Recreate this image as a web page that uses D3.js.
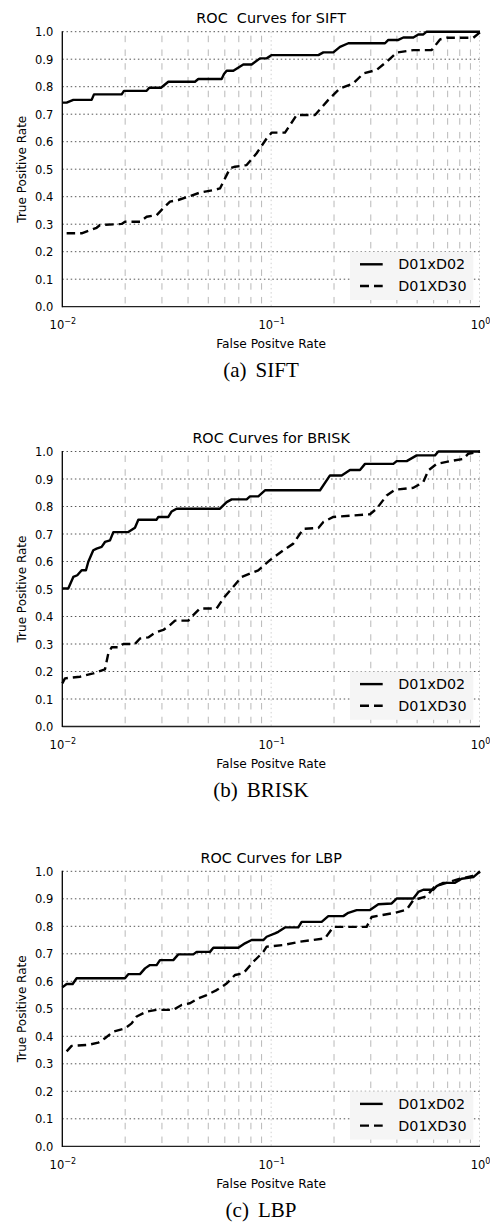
<!DOCTYPE html>
<html>
<head>
<meta charset="utf-8">
<script src="https://cdn.jsdelivr.net/npm/d3@7/dist/d3.min.js"></script>
<style>
  html, body { margin: 0; padding: 0; background: #fff; }
  svg { display: block; }
  text { font-family: "DejaVu Sans", sans-serif; fill: #000; }
</style>
</head>
<body>
<svg id="chart" width="490" height="1222"></svg>
<script>
// ---------------- data ----------------
const panelTitles = ["ROC  Curves for SIFT", "ROC Curves for BRISK", "ROC Curves for LBP"];
const captionTags = ["(a)", "(b)", "(c)"];
const captionNames = ["SIFT", "BRISK", "LBP"];
const seriesNames = ["D01xD02", "D01XD30"];
const xLabel = "False Positve Rate";
const yLabel = "True Positive Rate";
const yTicks = [0.0, 0.1, 0.2, 0.3, 0.4, 0.5, 0.6, 0.7, 0.8, 0.9, 1.0];
const xMajorTicks = [0.01, 0.1, 1];
const xTickExponents = ["-2", "-1", "0"];
const xMinorTicks = [0.02,0.03,0.04,0.05,0.06,0.07,0.08,0.09,0.2,0.3,0.4,0.5,0.6,0.7,0.8,0.9];

// SIFT
const siftSolidFPR = [0.0100,0.01049,0.01129,0.01382,0.01418,0.01924,0.01974,0.02534,0.02609,0.02968,0.03219,0.04318,0.04480,0.05794,0.05945,0.06122,0.06590,0.07357,0.08064,0.08841,0.09517,0.1006,0.1683,0.1778,0.1985,0.2136,0.2342,0.3509,0.3640,0.4064,0.4296,0.4795,0.5067,0.5354,0.5554,1.0];
const siftSolidTPR = [0.742,0.742,0.752,0.752,0.772,0.772,0.785,0.785,0.796,0.796,0.818,0.818,0.828,0.828,0.846,0.858,0.858,0.881,0.881,0.903,0.903,0.915,0.915,0.925,0.925,0.945,0.958,0.958,0.970,0.970,0.979,0.979,0.990,0.990,1.0,1.0];
const siftDashFPR = [0.01049,0.01238,0.01460,0.01515,0.01924,0.01996,0.02355,0.02534,0.02829,0.02990,0.03278,0.03593,0.04012,0.04563,0.05286,0.05689,0.06352,0.06711,0.07633,0.08522,0.09517,0.1006,0.1165,0.1325,0.1622,0.1878,0.2136,0.2475,0.2763,0.3201,0.3574,0.3990,0.4795,0.5869,0.6435,0.6922,0.9292,1.0];
const siftDashTPR = [0.267,0.267,0.287,0.297,0.301,0.309,0.309,0.327,0.333,0.352,0.382,0.388,0.400,0.415,0.424,0.430,0.503,0.509,0.515,0.558,0.612,0.633,0.633,0.697,0.697,0.752,0.794,0.812,0.848,0.861,0.891,0.924,0.933,0.933,0.972,0.978,0.978,0.998];

// BRISK
const briskSolidFPR = [0.0100,0.01068,0.01129,0.01180,0.01238,0.01298,0.01332,0.01407,0.01460,0.01543,0.01601,0.01692,0.01755,0.02070,0.02228,0.02312,0.02829,0.02882,0.03219,0.03339,0.03527,0.05689,0.06122,0.06470,0.07633,0.07918,0.08679,0.09343,0.1714,0.1913,0.2176,0.2385,0.2663,0.2814,0.3846,0.3990,0.4457,0.4975,0.6088,0.6317,1.0];
const briskSolidTPR = [0.502,0.502,0.544,0.550,0.568,0.568,0.599,0.641,0.647,0.653,0.671,0.677,0.707,0.707,0.723,0.752,0.752,0.762,0.762,0.782,0.792,0.792,0.816,0.826,0.826,0.837,0.837,0.859,0.859,0.913,0.913,0.933,0.933,0.955,0.955,0.965,0.965,0.986,0.986,1.0,1.0];
const briskDashFPR = [0.0100,0.01030,0.01215,0.01407,0.01601,0.01661,0.01723,0.01854,0.01960,0.02228,0.02355,0.02580,0.02778,0.03045,0.03278,0.03463,0.04012,0.04162,0.04563,0.05483,0.05902,0.06590,0.07223,0.07918,0.08679,0.09872,0.1144,0.1277,0.1426,0.1683,0.1778,0.1985,0.2973,0.3201,0.3574,0.3917,0.4795,0.5354,0.5657,0.6201,0.7452,0.8321,0.8792,1.0];
const briskDashTPR = [0.157,0.175,0.181,0.193,0.208,0.266,0.288,0.288,0.300,0.300,0.320,0.324,0.341,0.351,0.369,0.385,0.385,0.399,0.429,0.429,0.466,0.508,0.544,0.556,0.568,0.605,0.641,0.665,0.719,0.722,0.744,0.762,0.772,0.792,0.840,0.861,0.868,0.889,0.931,0.955,0.967,0.973,0.992,1.0];

// LBP
const lbpSolidFPR = [0.0100,0.01049,0.01121,0.01171,0.01996,0.02070,0.02355,0.02489,0.02628,0.02829,0.02936,0.03400,0.03593,0.04240,0.04398,0.05095,0.05286,0.06963,0.07494,0.08064,0.09172,0.09517,0.1043,0.1082,0.1165,0.1349,0.1400,0.1745,0.1878,0.2216,0.2342,0.2567,0.2973,0.3261,0.3776,0.3990,0.4795,0.5067,0.5354,0.5978,0.6201,0.6672,0.7591,0.8169,0.9292,1.0];
const lbpSolidTPR = [0.578,0.590,0.590,0.611,0.611,0.626,0.626,0.647,0.659,0.659,0.677,0.677,0.698,0.698,0.707,0.707,0.722,0.722,0.738,0.750,0.750,0.762,0.774,0.780,0.796,0.796,0.816,0.816,0.837,0.837,0.849,0.859,0.859,0.880,0.883,0.901,0.901,0.925,0.933,0.933,0.946,0.958,0.958,0.973,0.979,1.0];
const lbpDashFPR = [0.01049,0.01108,0.01332,0.01487,0.01601,0.01755,0.01996,0.02148,0.02270,0.02534,0.02829,0.03400,0.03728,0.04086,0.04480,0.04912,0.05483,0.06122,0.06711,0.07357,0.08214,0.09172,0.09517,0.1144,0.1374,0.1810,0.1985,0.2866,0.3029,0.3917,0.4457,0.4795,0.5554,0.6088,0.6922,0.8022,0.9122,1.0];
const lbpDashTPR = [0.345,0.365,0.369,0.377,0.393,0.417,0.429,0.447,0.472,0.490,0.496,0.496,0.514,0.520,0.538,0.550,0.568,0.592,0.623,0.629,0.671,0.707,0.726,0.732,0.744,0.756,0.798,0.798,0.834,0.849,0.861,0.895,0.909,0.946,0.958,0.973,0.982,0.998];

const panels = [
  { solid: d3.zip(siftSolidFPR, siftSolidTPR), dash: d3.zip(siftDashFPR, siftDashTPR) },
  { solid: d3.zip(briskSolidFPR, briskSolidTPR), dash: d3.zip(briskDashFPR, briskDashTPR) },
  { solid: d3.zip(lbpSolidFPR, lbpSolidTPR), dash: d3.zip(lbpDashFPR, lbpDashTPR) }
];

// ---------------- layout ----------------
const svg = d3.select("#chart");
const left = 62.3, right = 480, plotH = 275;
const panelTops = [31.7, 451.5, 871.3];
const x = d3.scaleLog().domain([0.01, 1]).range([left, right]);

panels.forEach((p, i) => {
  const top = panelTops[i];
  const bottom = top + plotH;
  const y = d3.scaleLinear().domain([0, 1]).range([bottom, top]);
  const g = svg.append("g");

  // minor vertical grid (dashed light gray)
  g.append("g").selectAll("line").data(xMinorTicks).join("line")
    .attr("x1", d => x(d)).attr("x2", d => x(d))
    .attr("y1", top).attr("y2", bottom)
    .attr("stroke", "#b8b8b8").attr("stroke-width", 1)
    .attr("stroke-dasharray", "6.5,7.25").attr("stroke-dashoffset", -4);

  // major vertical grid (faint dotted)
  g.append("g").selectAll("line").data(xMajorTicks.slice(1)).join("line")
    .attr("x1", d => x(d) - (d === 1 ? 0.5 : 0)).attr("x2", d => x(d) - (d === 1 ? 0.5 : 0))
    .attr("y1", top).attr("y2", bottom)
    .attr("stroke", "#d0d0d0").attr("stroke-width", 1)
    .attr("stroke-dasharray", "1.5,2.7");

  // horizontal grid (dotted)
  g.append("g").selectAll("line").data(yTicks.slice(1)).join("line")
    .attr("x1", left).attr("x2", right)
    .attr("y1", d => y(d)).attr("y2", d => y(d))
    .attr("stroke", "#555").attr("stroke-width", 1)
    .attr("stroke-dasharray", "1.5,2.7");

  // curves
  const line = d3.line().x(d => x(d[0])).y(d => y(d[1]));
  g.append("path").datum(p.solid).attr("d", line)
    .attr("fill", "none").attr("stroke", "#000").attr("stroke-width", 2.4)
    .attr("stroke-linejoin", "round");
  g.append("path").datum(p.dash).attr("d", line)
    .attr("fill", "none").attr("stroke", "#000").attr("stroke-width", 2.4)
    .attr("stroke-linejoin", "round").attr("stroke-dasharray", "8.5,5");

  // legend
  const lg = g.append("g").attr("transform", `translate(350,${top + 220})`);
  lg.append("rect").attr("width", 123.3).attr("height", 48.3).attr("fill", "#f5f5f5");
  seriesNames.forEach((name, k) => {
    const ly = 12.6 + k * 21.7;
    lg.append("line").attr("x1", 10).attr("x2", 32.7).attr("y1", ly).attr("y2", ly)
      .attr("stroke", "#000").attr("stroke-width", 2.4)
      .attr("stroke-dasharray", k === 1 ? "9,5" : null);
    lg.append("text").attr("x", 48.3).attr("y", ly + 5.2)
      .attr("font-size", "14.3px").text(name);
  });

  // axes
  const yAxis = d3.axisLeft(y).tickValues(yTicks).tickSize(0).tickPadding(9)
    .tickFormat(d3.format(".1f"));
  const ya = g.append("g").attr("transform", `translate(${left},0)`).call(yAxis);
  ya.select(".domain").remove();
  ya.selectAll("text").attr("font-size", "11.5px").attr("font-family", "DejaVu Sans, sans-serif")
    .attr("fill", "#000").attr("dy", "0.36em").attr("x", -9);

  const xAxis = d3.axisBottom(x).tickValues(xMajorTicks).tickSize(0).tickFormat(() => "");
  const xa = g.append("g").attr("transform", `translate(0,${bottom})`).call(xAxis);
  xa.select(".domain").remove();
  xa.selectAll(".tick text").remove();
  xa.selectAll(".tick").each(function(d, k) {
    const t = d3.select(this).append("text")
      .attr("y", 22.5).attr("text-anchor", "middle")
      .attr("font-family", "DejaVu Sans, sans-serif").attr("fill", "#000");
    t.append("tspan").attr("font-size", "11.5px").text("10");
    t.append("tspan").attr("font-size", "8px").attr("dy", -5).text(xTickExponents[k].replace("-", "\u2212"));
  });

  // spines
  g.append("line").attr("x1", left).attr("x2", right).attr("y1", bottom).attr("y2", bottom)
    .attr("stroke", "#222").attr("stroke-width", 1.3);
  g.append("line").attr("x1", left).attr("x2", left).attr("y1", top - 0.5).attr("y2", bottom + 0.6)
    .attr("stroke", "#000").attr("stroke-width", 1.3);

  // title
  g.append("text").attr("x", (left + right) / 2).attr("y", top - 8.4)
    .attr("text-anchor", "middle").attr("font-size", "14.4px")
    .style("white-space", "pre").text(panelTitles[i]);

  // axis labels
  g.append("text").attr("x", (left + right) / 2).attr("y", bottom + 41.3)
    .attr("text-anchor", "middle").attr("font-size", "12.2px").text(xLabel);
  g.append("text").attr("transform", `translate(26,${(top + bottom) / 2}) rotate(-90)`)
    .attr("text-anchor", "middle").attr("font-size", "12px").text(yLabel);

  // caption
  const cap = g.append("text").attr("x", 261).attr("y", bottom + 70.5)
    .attr("text-anchor", "middle").attr("font-size", "21px")
    .style("font-family", "'Liberation Serif', 'Times New Roman', serif");
  cap.append("tspan").text(captionTags[i]);
  cap.append("tspan").attr("dx", 9).text(captionNames[i]);
});
</script>
</body>
</html>
